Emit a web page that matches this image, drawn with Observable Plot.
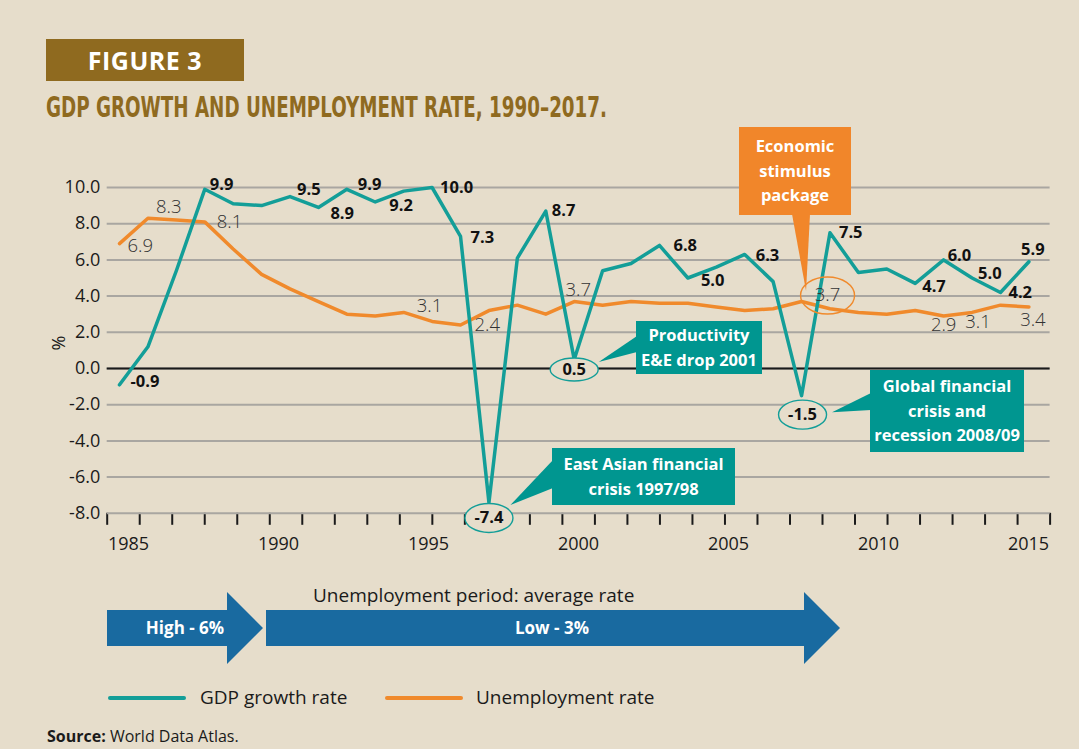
<!DOCTYPE html>
<html><head><meta charset="utf-8">
<script src="https://cdn.jsdelivr.net/npm/d3@7"></script>
<script src="https://cdn.jsdelivr.net/npm/@observablehq/plot@0.6"></script>
<style>
html,body{margin:0;padding:0;background:#e6ddcb;}
#page{position:relative;width:1079px;height:749px;overflow:hidden;background:#e6ddcb;font-family:"Open Sans","Noto Sans",sans-serif;color:#1a1a1a;}
.abs{position:absolute;}
#figbox{left:46px;top:39px;width:198px;height:42px;background:#8f6a1f;color:#fff;font-weight:700;font-size:25px;line-height:42px;text-align:center;letter-spacing:0.5px;}
.note{position:absolute;color:#fff;font-weight:700;font-size:16.5px;line-height:24.5px;text-align:center;display:flex;flex-direction:column;justify-content:center;}
.teal{background:#009690;}
.orange{background:#f1862a;}
.legend{position:absolute;font-size:19px;line-height:24px;}
</style></head><body>
<div id="page">
  <div id="figbox" class="abs">FIGURE 3</div>
  <svg class="abs" style="left:0;top:0" width="1079" height="130">
    <text x="46" y="116.5" textLength="561" lengthAdjust="spacingAndGlyphs" fill="#8f6a1f" font-weight="700" font-size="28.5" font-family="'Liberation Sans Narrow','DejaVu Sans Condensed',sans-serif">GDP GROWTH AND UNEMPLOYMENT RATE, 1990–2017.</text>
  </svg>
  <div id="xaxis" class="abs" style="left:0;top:0"></div>
  <div id="chart" class="abs" style="left:0;top:0"></div>
  <svg id="pointers" class="abs" style="left:0;top:0" width="1079" height="749"></svg>
  <div class="note orange" style="left:739px;top:127px;width:112px;height:88px;">Economic<br>stimulus<br>package</div>
  <div class="note teal" style="left:636px;top:321px;width:126px;height:53px;">Productivity<br>E&amp;E drop 2001</div>
  <div class="note teal" style="left:552px;top:448px;width:183px;height:57px;">East Asian financial<br>crisis 1997/98</div>
  <div class="note teal" style="left:870px;top:370px;width:154px;height:82px;">Global financial<br>crisis and<br>recession 2008/09</div>
  <div class="legend" style="left:313px;top:583px;">Unemployment period: average rate</div>
  <svg class="abs" style="left:0;top:0" width="1079" height="749" id="arrows">
    <polygon points="107,610 227,610 227,592 263,628 227,664 227,646 107,646" fill="#196aa0"/>
    <polygon points="266,610 804,610 804,592 840,628 804,664 804,646 266,646" fill="#196aa0"/>
    <text x="185" y="628" dy="0.35em" text-anchor="middle" fill="#fff" font-weight="700" font-size="17" font-family="'Open Sans',sans-serif">High - 6%</text>
    <text x="552" y="628" dy="0.35em" text-anchor="middle" fill="#fff" font-weight="700" font-size="17" font-family="'Open Sans',sans-serif">Low - 3%</text>
    <line x1="110" x2="184" y1="698" y2="698" stroke="#139e98" stroke-width="4" stroke-linecap="round"/>
    <line x1="387" x2="461" y1="698" y2="698" stroke="#f08a2c" stroke-width="4" stroke-linecap="round"/>
  </svg>
  <div class="legend" style="left:200px;top:685px;">GDP growth rate</div>
  <div class="legend" style="left:476px;top:685px;">Unemployment rate</div>
  <div class="legend" style="left:47px;top:724px;font-size:16px;"><b>Source:</b> World Data Atlas.</div>
</div>
<script>
// ---- data ----
const years = [1985,1986,1987,1988,1989,1990,1991,1992,1993,1994,1995,1996,1997,1998,1999,2000,2001,2002,2003,2004,2005,2006,2007,2008,2009,2010,2011,2012,2013,2014,2015,2016,2017];
const gdpGrowth = [-0.9,1.2,5.4,9.9,9.1,9.0,9.5,8.9,9.9,9.2,9.8,10.0,7.3,-7.4,6.1,8.7,0.5,5.4,5.8,6.8,5.0,5.6,6.3,4.8,-1.5,7.5,5.3,5.5,4.7,6.0,5.0,4.2,5.9];
const unemployment = [6.9,8.3,8.2,8.1,6.6,5.2,4.4,3.7,3.0,2.9,3.1,2.6,2.4,3.2,3.5,3.0,3.7,3.5,3.7,3.6,3.6,3.4,3.2,3.3,3.7,3.3,3.1,3.0,3.2,2.9,3.1,3.5,3.4];
const yTicks = [-8,-6,-4,-2,0,2,4,6,8,10];
const xTickLabels = [1985,1990,1995,2000,2005,2010,2015];

// ---- label layout (which points are labelled and where) ----
const gdpLabels = [
  {year:1985,dx:11,dy:-3},{year:1988,dx:5,dy:-5},{year:1991,dx:7,dy:-7},{year:1992,dx:12,dy:6},
  {year:1993,dx:11,dy:-5},{year:1994,dx:14,dy:4},{year:1996,dx:8,dy:0},{year:1997,dx:10,dy:1},
  {year:2000,dx:6,dy:0},{year:2004,dx:14,dy:0},{year:2005,dx:13,dy:3},{year:2007,dx:11,dy:1},
  {year:2010,dx:9,dy:0},{year:2013,dx:7,dy:3.5},{year:2014,dx:4,dy:-4},{year:2015,dx:6,dy:-4},
  {year:2016,dx:8,dy:0},{year:2017,dx:4,dy:-12,anchor:"middle"}
];
const gdpCircled = [{year:1998,dx:0,dy:15.5,rx:24,ry:14.5},{year:2001,dx:0,dy:10,rx:24,ry:11.5},{year:2009,dx:1,dy:19,rx:24,ry:14.5}];
const unempLabels = [
  {year:1985,dx:8,dy:2},{year:1986,dx:8,dy:-11.5},{year:1988,dx:12,dy:0},{year:1995,dx:13,dy:-6},
  {year:1997,dx:14,dy:0},{year:2001,dx:4,dy:-11,anchor:"middle"},{year:2014,dx:0,dy:9,anchor:"middle"},
  {year:2015,dx:6,dy:10,anchor:"middle"},{year:2017,dx:4,dy:13,anchor:"middle"}
];
const unempCircled = [{year:2009,dx:26,dy:-6,rx:27,ry:18.5}];

const teal = "#139e98", orange = "#f08a2c", bg = "#e6ddcb";
const rows = years.map((y,i)=>({year:y, gdp:gdpGrowth[i], unemp:unemployment[i]}));
const row = y => rows.filter(d=>d.year===y);
const fmt = v => v.toFixed(1);

function ellipse(rx, ry){
  const k = 0.5523;
  return {draw(ctx){
    ctx.moveTo(rx,0);
    ctx.bezierCurveTo(rx, ry*k, rx*k, ry, 0, ry);
    ctx.bezierCurveTo(-rx*k, ry, -rx, ry*k, -rx, 0);
    ctx.bezierCurveTo(-rx, -ry*k, -rx*k, -ry, 0, -ry);
    ctx.bezierCurveTo(rx*k, -ry, rx, -ry*k, rx, 0);
    ctx.closePath();
  }};
}

const W = 1079, H = 560, mTop = 187, mBottomY = 512.8, mLeft = 106.7, mRightX = 1049.6;
const font = "'Open Sans','Noto Sans',sans-serif";

const marks = [
  Plot.gridY(yTicks, {stroke:"#a9a6a1", strokeOpacity:1, strokeWidth:2}),
  Plot.ruleY([0], {stroke:"#1a1a1a", strokeWidth:2}),
  Plot.axisY(yTicks, {tickSize:0, tickPadding:7, tickFormat:fmt, fontSize:18, label:null, fill:"#1a1a1a"}),
  Plot.text(["%"], {frameAnchor:"left", dx:-48, rotate:-90, fontSize:18, fill:"#1a1a1a"}),
  Plot.line(rows, {x:"year", y:"unemp", stroke:orange, strokeWidth:3.5}),
  Plot.line(rows, {x:"year", y:"gdp", stroke:teal, strokeWidth:3.5}),
];
for (const l of gdpLabels) {
  marks.push(Plot.text(row(l.year), {x:"year", y:"gdp", text:d=>fmt(d.gdp), dx:l.dx, dy:l.dy, textAnchor:l.anchor||"start", fontWeight:700, fontSize:16.5, fill:"#111"}));
}
for (const c of gdpCircled) {
  marks.push(Plot.dot(row(c.year), {x:"year", y:"gdp", symbol:ellipse(c.rx,c.ry), dx:c.dx, dy:c.dy, stroke:teal, strokeWidth:1.4, fill:bg}));
  marks.push(Plot.text(row(c.year), {x:"year", y:"gdp", text:d=>fmt(d.gdp), dx:c.dx, dy:c.dy, fontWeight:700, fontSize:16.5, fill:"#111"}));
}
for (const l of unempLabels) {
  marks.push(Plot.text(row(l.year), {x:"year", y:"unemp", text:d=>fmt(d.unemp), dx:l.dx, dy:l.dy, textAnchor:l.anchor||"start", fontWeight:300, fontSize:18.5, fill:"#333"}));
}
for (const c of unempCircled) {
  marks.push(Plot.dot(row(c.year), {x:"year", y:"unemp", symbol:ellipse(c.rx,c.ry), dx:c.dx, dy:c.dy, stroke:orange, strokeWidth:1.4, fill:"none"}));
  marks.push(Plot.text(row(c.year), {x:"year", y:"unemp", text:d=>fmt(d.unemp), dx:c.dx, dy:c.dy, fontWeight:300, fontSize:18.5, fill:"#333"}));
}

const chart = Plot.plot({
  width: W, height: H,
  marginLeft: mLeft, marginRight: W - mRightX, marginTop: mTop, marginBottom: H - mBottomY,
  style: {background:"transparent", fontFamily:font, overflow:"visible"},
  x: {domain:[1985, 2017], range:[119, 1028.4], axis:null},
  y: {domain:[-8, 10], axis:null},
  marks
});
document.getElementById("chart").appendChild(chart);

// ---- separate category-style x axis (as drawn in the original), drawn beneath the chart ----
const axisStart = 1985 - 21.3/30, axisEnd = 1985 + (mRightX - 128)/30;
const tickCount = 30;
const tickPositions = d3.range(tickCount).map(k => axisStart + k*(axisEnd-axisStart)/(tickCount-1));
const xaxis = Plot.plot({
  width: W, height: H,
  marginLeft: mLeft, marginRight: W - mRightX, marginTop: mTop, marginBottom: H - mBottomY,
  style: {background:"transparent", fontFamily:font, overflow:"visible"},
  x: {domain:[axisStart, axisEnd]},
  marks: [
    Plot.axisX(tickPositions, {tickSize:12, tickFormat:()=>"", stroke:"#1a1a1a", strokeWidth:2, label:null}),
    Plot.axisX(xTickLabels, {tickSize:0, tickPadding:24, tickFormat:d=>String(d), fontSize:18, fill:"#1a1a1a", label:null})
  ]
});
document.getElementById("xaxis").appendChild(xaxis);

// ---- callout pointers, tips taken from the chart scales ----
const xs = chart.scale("x"), ys = chart.scale("y");
const px = (yr) => xs.apply(yr);
const py = (v) => ys.apply(v);
const gi = y => years.indexOf(y);
const ptrs = [
  {fill:"#009690", pts:[[px(2001)+25, py(gdpGrowth[gi(2001)])+3],[637,336],[637,352]]},
  {fill:"#009690", pts:[[px(1998)+22, py(gdpGrowth[gi(1998)])+3],[553,460],[553,488]]},
  {fill:"#009690", pts:[[px(2009)+31, py(gdpGrowth[gi(2009)])+17],[871,393],[871,410]]},
  {fill:"#f1862a", pts:[[px(2009)+5, py(unemployment[gi(2009)])-10],[792,214],[810,214]]}
];
const svgP = d3.select("#pointers");
for (const p of ptrs) svgP.append("polygon").attr("points", p.pts.map(q=>q.join(",")).join(" ")).attr("fill", p.fill);
</script>
</body></html>
